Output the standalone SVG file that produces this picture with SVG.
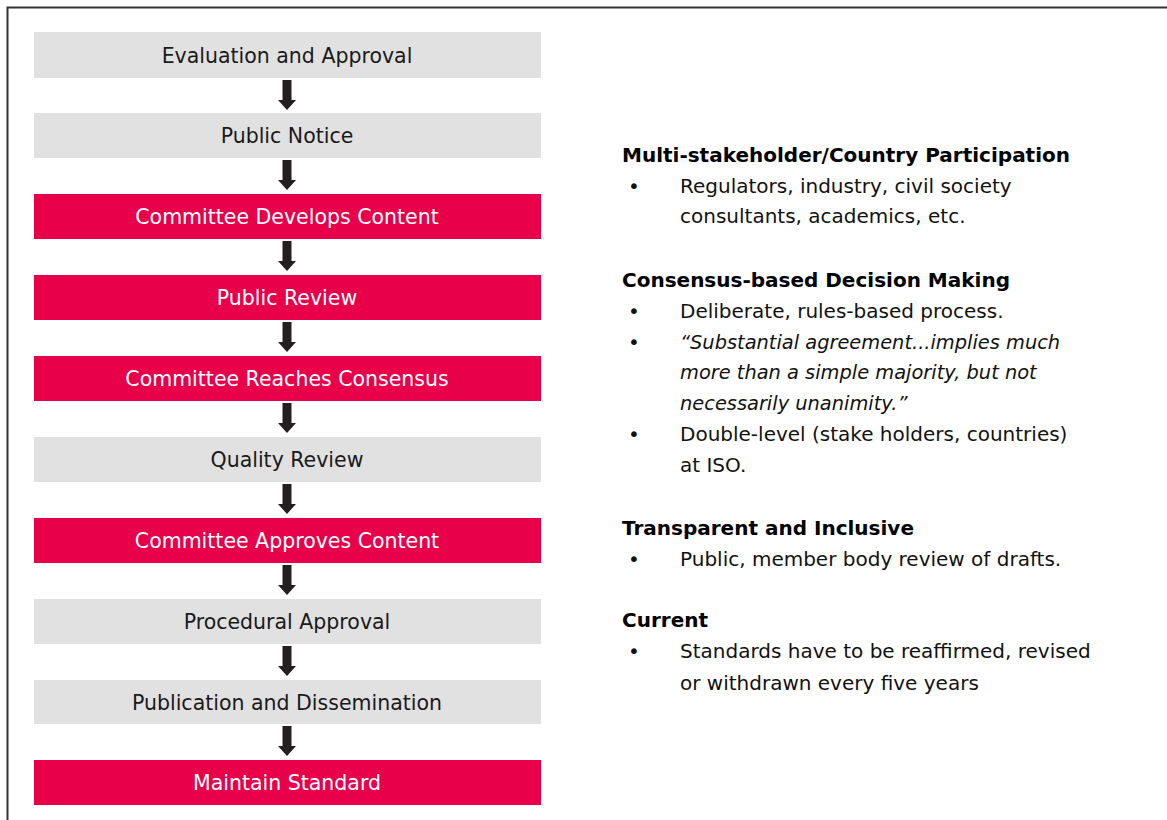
<svg xmlns="http://www.w3.org/2000/svg" width="1167" height="820" viewBox="0 0 1167 820">
<style>
  text { font-family: "DejaVu Sans", "Liberation Sans", sans-serif; }
  .box-g { fill: #e1e1e1; }
  .box-r { fill: #e8004a; }
  .lbl { font-size: 20.5px; text-anchor: middle; }
  .lbl-d { fill: #1a1a1a; }
  .lbl-w { fill: #ffffff; }
  .arrow { fill: #231f20; }
  .h { font-size: 20px; font-weight: bold; fill: #000; }
  .b { font-size: 20px; fill: #111; }
  .i { font-style: italic; font-size: 19.4px; }
</style>
<rect x="0" y="0" width="1167" height="820" fill="#ffffff"/>
<path d="M7.5 830 V7.5 H1180" fill="none" stroke="#333" stroke-width="2"/>

<g id="n1"><rect class="box-g" x="34" y="32" width="507" height="46"/><text class="lbl lbl-d" x="287" y="63">Evaluation and Approval</text></g>
<g id="n2"><rect class="box-g" x="34" y="113" width="507" height="45"/><text class="lbl lbl-d" x="287" y="143">Public Notice</text></g>
<g id="n3"><rect class="box-r" x="34" y="194" width="507" height="45"/><text class="lbl lbl-w" x="287" y="224">Committee Develops Content</text></g>
<g id="n4"><rect class="box-r" x="34" y="275" width="507" height="45"/><text class="lbl lbl-w" x="287" y="305">Public Review</text></g>
<g id="n5"><rect class="box-r" x="34" y="356" width="507" height="45"/><text class="lbl lbl-w" x="287" y="386">Committee Reaches Consensus</text></g>
<g id="n6"><rect class="box-g" x="34" y="437" width="507" height="45"/><text class="lbl lbl-d" x="287" y="467">Quality Review</text></g>
<g id="n7"><rect class="box-r" x="34" y="518" width="507" height="45"/><text class="lbl lbl-w" x="287" y="548">Committee Approves Content</text></g>
<g id="n8"><rect class="box-g" x="34" y="599" width="507" height="45"/><text class="lbl lbl-d" x="287" y="629">Procedural Approval</text></g>
<g id="n9"><rect class="box-g" x="34" y="680" width="507" height="44"/><text class="lbl lbl-d" x="287" y="710">Publication and Dissemination</text></g>
<g id="n10"><rect class="box-r" x="34" y="760" width="507" height="45"/><text class="lbl lbl-w" x="287" y="790">Maintain Standard</text></g>

<defs>
  <path id="arr" d="M-4.5 0 H4.5 V20 H9 L0 30 L-9 20 H-4.5 Z"/>
</defs>
<g id="connectors" class="arrow">
  <use href="#arr" x="287" y="80"/>
  <use href="#arr" x="287" y="160"/>
  <use href="#arr" x="287" y="241"/>
  <use href="#arr" x="287" y="322"/>
  <use href="#arr" x="287" y="403"/>
  <use href="#arr" x="287" y="484"/>
  <use href="#arr" x="287" y="565"/>
  <use href="#arr" x="287" y="646"/>
  <use href="#arr" x="287" y="726"/>
</g>

<g id="notes">
  <text class="h" x="622" y="162">Multi-stakeholder/Country Participation</text>
  <text class="b" x="628" y="193">•</text>
  <text class="b" x="680" y="193">Regulators, industry, civil society</text>
  <text class="b" x="680" y="223">consultants, academics, etc.</text>

  <text class="h" x="622" y="287">Consensus-based Decision Making</text>
  <text class="b" x="628" y="318">•</text>
  <text class="b" x="680" y="318">Deliberate, rules-based process.</text>
  <text class="b" x="628" y="349">•</text>
  <text class="b i" x="680" y="349">“Substantial agreement...implies much</text>
  <text class="b i" x="680" y="379">more than a simple majority, but not</text>
  <text class="b i" x="680" y="410">necessarily unanimity.”</text>
  <text class="b" x="628" y="441">•</text>
  <text class="b" x="680" y="441">Double-level (stake holders, countries)</text>
  <text class="b" x="680" y="472">at ISO.</text>

  <text class="h" x="622" y="535">Transparent and Inclusive</text>
  <text class="b" x="628" y="566">•</text>
  <text class="b" x="680" y="566">Public, member body review of drafts.</text>

  <text class="h" x="622" y="627">Current</text>
  <text class="b" x="628" y="658">•</text>
  <text class="b" x="680" y="658">Standards have to be reaffirmed, revised</text>
  <text class="b" x="680" y="690">or withdrawn every five years</text>
</g>
</svg>
